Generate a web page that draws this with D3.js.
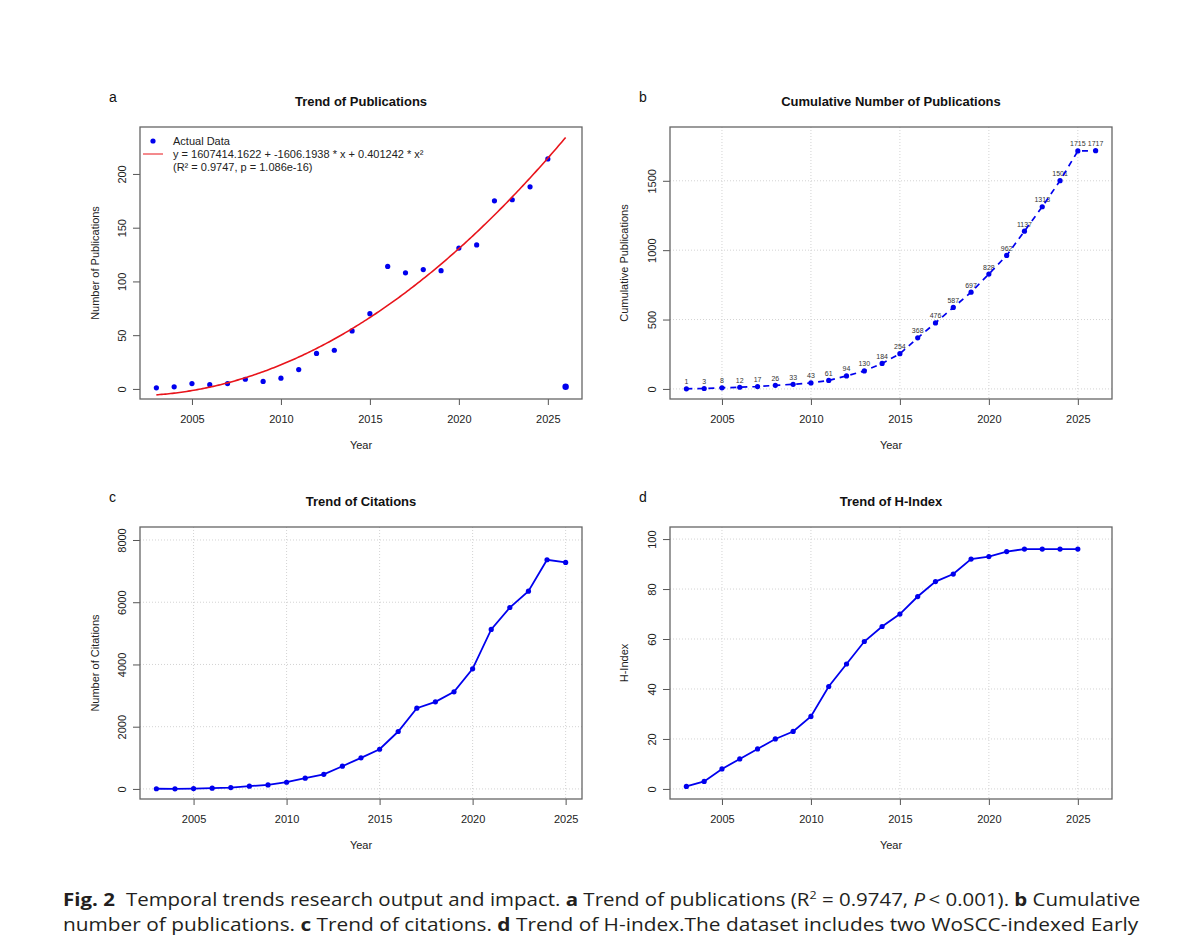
<!DOCTYPE html>
<html>
<head>
<meta charset="utf-8">
<script src="https://cdn.jsdelivr.net/npm/d3@7"></script>
<style>
  body { margin: 0; background: #fff; }
  svg { display: block; }
</style>
</head>
<body>
<script>
// data
var pubYears = [2003, 2004, 2005, 2006, 2007, 2008, 2009, 2010, 2011, 2012, 2013, 2014,
                2015, 2016, 2017, 2018, 2019, 2020, 2021, 2022, 2023, 2024, 2025, 2026];
var pubCounts = [1, 2, 5, 4, 5, 9, 7, 10, 18, 33, 36, 54, 70, 114, 108, 111, 110, 131, 134, 175, 176, 188, 214, 2];
var cumCounts = [1, 3, 8, 12, 17, 26, 33, 43, 61, 94, 130, 184, 254, 368, 476, 587, 697, 828, 962, 1137, 1313, 1501, 1715, 1717];

var citeYears = [2003, 2004, 2005, 2006, 2007, 2008, 2009, 2010, 2011, 2012, 2013, 2014,
                 2015, 2016, 2017, 2018, 2019, 2020, 2021, 2022, 2023, 2024, 2025];
var citeCounts = [5, 3, 10, 25, 45, 90, 130, 215, 345, 470, 730, 1000, 1275, 1845, 2595, 2800, 3120, 3860, 5125, 5830, 6355, 7365, 7280];
var hIndex = [1, 3, 8, 12, 16, 20, 23, 29, 41, 50, 59, 65, 70, 77, 83, 86, 92, 93, 95, 96, 96, 96, 96];

// quadratic fit printed in the legend: b0 + b1*x + b2*x^2
var fitCoef = [1607414.1622, -1606.1938, 0.401242];

var xTicks = [2005, 2010, 2015, 2020, 2025];
var pubTicks = [0, 50, 100, 150, 200];
var cumTicks = [0, 500, 1000, 1500];
var citeTicks = [0, 2000, 4000, 6000, 8000];
var hTicks = [0, 20, 40, 60, 80, 100];

var width = 1202, height = 939;
var font = "'Liberation Sans', Arial, sans-serif";
var blue = "#0000ee";

var svg = d3.select("body").append("svg")
    .attr("width", width).attr("height", height)
    .style("background", "#fff");

// R-style axis padding (4% each side)
function pad(lo, hi) {
    var r = hi - lo;
    return [lo - 0.04 * r, hi + 0.04 * r];
}

function panel(o) {
    var g = svg.append("g");
    var x = d3.scaleLinear().domain(pad(o.xlim[0], o.xlim[1])).range([o.L, o.R]);
    var y = d3.scaleLinear().domain(pad(o.ylim[0], o.ylim[1])).range([o.B, o.T]);

    if (o.grid) {
        g.append("g").selectAll("line").data(xTicks).enter().append("line")
            .attr("x1", function(d) { return x(d); }).attr("x2", function(d) { return x(d); })
            .attr("y1", o.T).attr("y2", o.B)
            .attr("stroke", "#d3d3d3").attr("stroke-dasharray", "1,2");
        g.append("g").selectAll("line").data(o.yTicks).enter().append("line")
            .attr("y1", function(d) { return y(d); }).attr("y2", function(d) { return y(d); })
            .attr("x1", o.L).attr("x2", o.R)
            .attr("stroke", "#d3d3d3").attr("stroke-dasharray", "1,2");
    }

    var xa = g.append("g").attr("transform", "translate(0," + o.B + ")")
        .call(d3.axisBottom(x).tickValues(xTicks).tickSize(6).tickFormat(d3.format("d")));
    xa.select(".domain").remove();
    xa.selectAll("line").attr("stroke", "#555");
    xa.selectAll("text").attr("y", 24).attr("dy", null)
        .style("font-family", font).style("font-size", "11px").attr("fill", "#222");

    var ya = g.append("g").attr("transform", "translate(" + o.L + ",0)")
        .call(d3.axisLeft(y).tickValues(o.yTicks).tickSize(7).tickFormat(d3.format("d")));
    ya.select(".domain").remove();
    ya.selectAll("line").attr("stroke", "#555");
    ya.selectAll("text").attr("x", null).attr("dy", null)
        .attr("text-anchor", "middle").attr("dominant-baseline", "central")
        .attr("transform", "translate(-18,0) rotate(-90)")
        .style("font-family", font).style("font-size", "11px").attr("fill", "#222");

    g.append("rect").attr("x", o.L).attr("y", o.T)
        .attr("width", o.R - o.L).attr("height", o.B - o.T)
        .attr("fill", "none").attr("stroke", "#666").attr("stroke-width", 1.3);

    g.append("text").attr("x", (o.L + o.R) / 2).attr("y", o.T - 21.5)
        .attr("text-anchor", "middle").style("font-family", font)
        .style("font-size", "13px").style("font-weight", "bold").attr("fill", "#111")
        .text(o.title);

    g.append("text").attr("x", o.L - 31).attr("y", o.T - 25)
        .style("font-family", font).style("font-size", "14px").attr("fill", "#111")
        .text(o.tag);

    g.append("text").attr("x", (o.L + o.R) / 2).attr("y", o.B + 50)
        .attr("text-anchor", "middle").style("font-family", font)
        .style("font-size", "11px").attr("fill", "#222").text("Year");

    g.append("text")
        .attr("transform", "translate(" + (o.L - o.ylabOff) + "," + ((o.T + o.B) / 2) + ") rotate(-90)")
        .attr("text-anchor", "middle").attr("dominant-baseline", "central")
        .style("font-family", font).style("font-size", "11px").attr("fill", "#222")
        .text(o.ylab);

    return { g: g, x: x, y: y };
}

// ---- a: publications with quadratic fit
var a = panel({ L: 140, R: 582, T: 127, B: 399, xlim: [2003, 2026], ylim: [0, 234.3],
    yTicks: pubTicks, title: "Trend of Publications", tag: "a",
    ylab: "Number of Publications", ylabOff: 45, grid: false });

var fitX = d3.range(2003, 2026.001, 0.1);
var fitLine = d3.line()
    .x(function(d) { return a.x(d); })
    .y(function(d) { return a.y(fitCoef[0] + fitCoef[1] * d + fitCoef[2] * d * d); });

a.g.append("g").selectAll("circle").data(pubYears).enter().append("circle")
    .attr("cx", function(d) { return a.x(d); })
    .attr("cy", function(d, i) { return a.y(pubCounts[i]); })
    .attr("r", function(d) { return d === 2026 ? 3.2 : 2.6; })
    .attr("fill", blue);

a.g.append("path").datum(fitX).attr("d", fitLine)
    .attr("fill", "none").attr("stroke", "#e8141b").attr("stroke-width", 1.6);

var leg = a.g.append("g").style("font-family", font).style("font-size", "11px").attr("fill", "#222");
leg.append("circle").attr("cx", 153).attr("cy", 141).attr("r", 2.6).attr("fill", blue);
leg.append("line").attr("x1", 143).attr("x2", 163).attr("y1", 154).attr("y2", 154)
    .attr("stroke", "#e8141b").attr("stroke-width", 1);
leg.append("text").attr("x", 173).attr("y", 145).text("Actual Data");
leg.append("text").attr("x", 173).attr("y", 158)
    .text("y = " + fitCoef[0].toFixed(4) + " + " + fitCoef[1].toFixed(4) + " * x + " + fitCoef[2] + " * x\u00b2");
leg.append("text").attr("x", 173).attr("y", 171).text("(R\u00b2 = 0.9747, p = 1.086e-16)");

// ---- b: cumulative publications
var b = panel({ L: 670, R: 1112, T: 127, B: 399, xlim: [2003, 2026], ylim: [0, 1815],
    yTicks: cumTicks, title: "Cumulative Number of Publications", tag: "b",
    ylab: "Cumulative Publications", ylabOff: 46, grid: true });

b.g.append("g").selectAll("text").data(pubYears).enter().append("text")
    .attr("x", function(d) { return b.x(d); })
    .attr("y", function(d, i) { return b.y(cumCounts[i]) - 4.5; })
    .attr("text-anchor", "middle").style("font-family", font).style("font-size", "7px")
    .attr("fill", "#333")
    .text(function(d, i) { return cumCounts[i]; });

var cumLine = d3.line()
    .x(function(d) { return b.x(d); })
    .y(function(d, i) { return b.y(cumCounts[i]); });
b.g.append("path").datum(pubYears).attr("d", cumLine)
    .attr("fill", "none").attr("stroke", blue).attr("stroke-width", 1.7)
    .attr("stroke-dasharray", "6,5");
b.g.append("g").selectAll("circle").data(pubYears).enter().append("circle")
    .attr("cx", function(d) { return b.x(d); })
    .attr("cy", function(d, i) { return b.y(cumCounts[i]); })
    .attr("r", 2.6).attr("fill", blue);

// ---- c: citations
var c = panel({ L: 140, R: 582, T: 527, B: 799, xlim: [2003, 2025], ylim: [0, 8094],
    yTicks: citeTicks, title: "Trend of Citations", tag: "c",
    ylab: "Number of Citations", ylabOff: 45, grid: true });

var citeLine = d3.line()
    .x(function(d) { return c.x(d); })
    .y(function(d, i) { return c.y(citeCounts[i]); });
c.g.append("path").datum(citeYears).attr("d", citeLine)
    .attr("fill", "none").attr("stroke", blue).attr("stroke-width", 1.8);
c.g.append("g").selectAll("circle").data(citeYears).enter().append("circle")
    .attr("cx", function(d) { return c.x(d); })
    .attr("cy", function(d, i) { return c.y(citeCounts[i]); })
    .attr("r", 2.6).attr("fill", blue);

// ---- d: h-index
var dP = panel({ L: 670, R: 1112, T: 527, B: 799, xlim: [2003, 2026], ylim: [0, 100.8],
    yTicks: hTicks, title: "Trend of H-Index", tag: "d",
    ylab: "H-Index", ylabOff: 46, grid: true });

var hLine = d3.line()
    .x(function(d) { return dP.x(d); })
    .y(function(d, i) { return dP.y(hIndex[i]); });
dP.g.append("path").datum(citeYears).attr("d", hLine)
    .attr("fill", "none").attr("stroke", blue).attr("stroke-width", 1.8);
dP.g.append("g").selectAll("circle").data(citeYears).enter().append("circle")
    .attr("cx", function(d) { return dP.x(d); })
    .attr("cy", function(d, i) { return dP.y(hIndex[i]); })
    .attr("r", 2.6).attr("fill", blue);

// ---- caption (condensed by squeezing each line horizontally)
var capFont = "'Open Sans', 'Noto Sans', sans-serif";
var cap = svg.append("g").style("font-family", capFont).style("font-size", "18px").attr("fill", "#231f20");

function squeeze(sel, x0, y0, w) {
    var natural = sel.node().getComputedTextLength();
    sel.attr("x", 0).attr("y", 0)
        .attr("transform", "translate(" + x0 + "," + y0 + ") scale(" + (w / natural) + ",1)");
}

var line1 = cap.append("text");
line1.append("tspan").style("font-weight", "bold").text("Fig. 2");
line1.append("tspan").attr("dx", 5).text(" Temporal trends research output and impact. ");
line1.append("tspan").style("font-weight", "bold").text("a");
line1.append("tspan").text(" Trend of publications (R");
line1.append("tspan").attr("dy", -7).style("font-size", "11px").text("2");
line1.append("tspan").attr("dy", 7).text(" = 0.9747, ");
line1.append("tspan").style("font-style", "italic").text("P");
line1.append("tspan").text("\u2009< 0.001). ");
line1.append("tspan").style("font-weight", "bold").text("b");
line1.append("tspan").text(" Cumulative");
squeeze(line1, 63, 906, 1072);

var line2 = cap.append("text");
line2.append("tspan").text("number of publications. ");
line2.append("tspan").style("font-weight", "bold").text("c");
line2.append("tspan").text(" Trend of citations. ");
line2.append("tspan").style("font-weight", "bold").text("d");
line2.append("tspan").text(" Trend of H-index.The dataset includes two WoSCC-indexed Early");
squeeze(line2, 63, 931, 1076);
</script>
</body>
</html>
